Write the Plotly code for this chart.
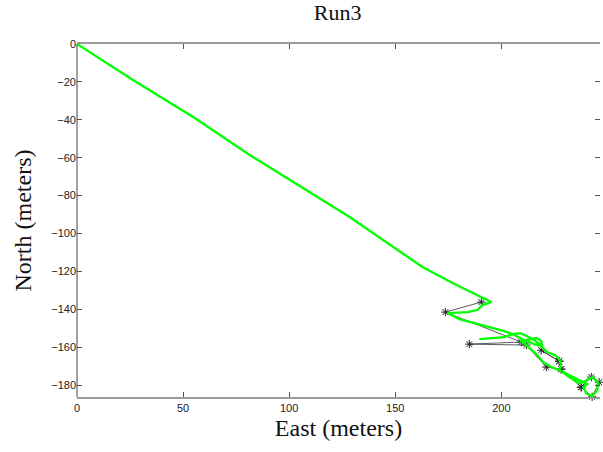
import plotly.graph_objects as go

# Estimated trajectory (green) - East / North in meters
track_east = [0.0, 26.4, 55.5, 81.4, 128.5, 162.8, 178.8, 189.6, 195.3, 191.1, 188.7, 184.0, 174.6,
              180.2, 187.3, 194.4, 201.4, 206.1, 210.8, 215.5, 218.8, 221.6, 225.4, 227.3, 228.2, 227.3,
              232.0, 237.6, 240.5, 238.6, 240.0, 242.8, 245.2, 245.6, 242.8, 239.5, 236.7,
              232.0, 228.2, 223.5, 219.8, 216.9, 214.1, 211.8, 209.0,
              213.2, 216.5, 218.8, 219.3, 215.5, 212.2, 208.9, 205.2, 201.4, 195.3, 189.6]
track_north = [0.0, -19.0, -39.1, -58.6, -91.3, -117.7, -127.2, -133.1, -136.2, -137.8, -140.4, -141.5, -142.0,
               -145.2, -147.3, -149.4, -151.5, -153.6, -156.3, -158.4, -159.5, -162.6, -164.2, -166.3, -170.0, -172.1,
               -174.8, -177.9, -179.5, -181.1, -184.3, -185.9, -182.7, -178.5, -175.8, -177.9, -179.0,
               -175.8, -172.6, -170.5, -167.9, -164.2, -161.0, -158.9, -156.8,
               -155.8, -155.2, -156.8, -159.5, -156.3, -154.2, -152.6, -153.1, -154.7, -155.2, -155.8]

# Measured fixes (black stars)
fix_east = [190.6, 173.6, 209.4, 184.9, 211.8, 221.2, 228.2, 227.3, 218.8, 227.3, 228.2,
            237.6, 242.4, 246.1, 242.8, 237.6]
fix_north = [-136.2, -141.5, -157.3, -158.4, -158.9, -170.5, -171.6, -167.4, -161.6, -167.4, -171.6,
             -181.1, -175.8, -178.5, -186.2, -181.1]

x_ticks = [0, 50, 100, 150, 200]
y_ticks = [0, -20, -40, -60, -80, -100, -120, -140, -160, -180]
x_range = [0, 246.5]
y_range = [-186.3, 0]

fig = go.Figure()
fig.add_trace(go.Scatter(x=fix_east, y=fix_north, mode="lines+markers",
                         line=dict(color="#333333", width=0.8),
                         marker=dict(symbol="asterisk-open", size=7,
                                     line=dict(color="#222222", width=1), color="#222222"),
                         showlegend=False, cliponaxis=False))
fig.add_trace(go.Scatter(x=track_east, y=track_north, mode="lines",
                         line=dict(color="#00ff00", width=2.3),
                         showlegend=False))

serif = "Liberation Serif, Times New Roman, serif"
tickfont = dict(family="Liberation Sans, Arial, sans-serif", size=11, color="#222222")
fig.update_layout(
    width=603, height=452,
    margin=dict(l=77, r=3, t=44, b=55),
    paper_bgcolor="white", plot_bgcolor="white",
    title=dict(text="Run3", x=0.56, xanchor="center", y=1 - 5 / 452, yanchor="top",
               pad=dict(t=0, b=0), font=dict(family=serif, size=22, color="#111111")),
    xaxis=dict(range=x_range, tickvals=x_ticks, ticks="inside", ticklen=5,
               tickcolor="#555555", showgrid=False, zeroline=False, automargin=False,
               showline=True, linecolor="#9a9a9a", linewidth=2, mirror="ticks",
               tickfont=tickfont,
               title=dict(text="East (meters)", standoff=6,
                          font=dict(family=serif, size=24, color="#111111"))),
    yaxis=dict(range=y_range, tickvals=y_ticks, ticks="inside", ticklen=5,
               tickcolor="#555555", showgrid=False, zeroline=False, automargin=False,
               showline=False, mirror="ticks",
               tickfont=tickfont,
               title=dict(text="North (meters)", standoff=12,
                          font=dict(family=serif, size=24, color="#111111"))),
    shapes=[dict(type="line", xref="paper", yref="paper", x0=0, x1=0, y0=0, y1=1,
                 line=dict(color="#444444", width=1))],
)

fig.write_html("out.html", config={"displayModeBar": False},
               post_script="document.body.style.margin='0';document.body.style.overflow='hidden';")
